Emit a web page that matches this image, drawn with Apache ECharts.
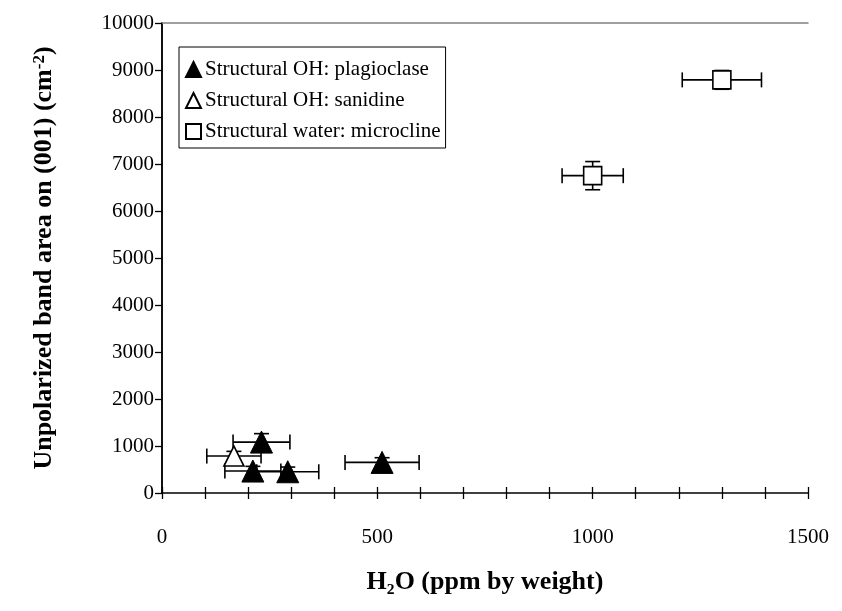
<!DOCTYPE html>
<html>
<head>
<meta charset="utf-8">
<script src="https://cdn.jsdelivr.net/npm/echarts@6/dist/echarts.min.js"></script>
<style>
  html, body { margin: 0; padding: 0; background: #fff; }
  #chart { width: 842px; height: 611px; }
</style>
</head>
<body>
<div id="chart"></div>
<script>
// Structural OH in plagioclase: H2O content (ppm) and band area, with uncertainties
const plagH2O    = [231, 211, 292, 511];
const plagArea   = [1083, 467, 452, 651];
const plagH2OErr = [66, 65, 72, 86];
const plagAreaErr = [180, 100, 100, 100];

// Structural OH in sanidine
const saniH2O    = [167];
const saniArea   = [786];
const saniH2OErr = [63];
const saniAreaErr = [100];

// Structural water in microcline
const micrH2O    = [1000, 1300];
const micrArea   = [6752, 8790];
const micrH2OErr = [71, 92];
const micrAreaErr = [300, 200];

const seriesNames = ['Structural OH: plagioclase', 'Structural OH: sanidine', 'Structural water: microcline'];
const xTickLabels = [0, 500, 1000, 1500];

const FONT = '"Liberation Serif", "Times New Roman", serif';

function points(xs, ys) { return xs.map((x, i) => [x, ys[i]]); }
function errRows(xs, ys, ex, ey) { return xs.map((x, i) => [x, ys[i], ex[i], ey[i]]); }

// Cross-shaped error bars with end caps
function renderErr(params, api) {
  const x = api.value(0), y = api.value(1), ex = api.value(2), ey = api.value(3);
  const c = api.coord([x, y]);
  const l = api.coord([x - ex, y]);
  const r = api.coord([x + ex, y]);
  const t = api.coord([x, y + ey]);
  const b = api.coord([x, y - ey]);
  const cap = 7.5;
  const st = { stroke: '#000', lineWidth: 1.6 };
  const line = (x1, y1, x2, y2) => ({ type: 'line', shape: { x1, y1, x2, y2 }, style: st });
  return {
    type: 'group',
    children: [
      line(l[0], c[1], r[0], c[1]),
      line(l[0], c[1] - cap, l[0], c[1] + cap),
      line(r[0], c[1] - cap, r[0], c[1] + cap),
      line(c[0], t[1], c[0], b[1]),
      line(c[0] - cap, t[1], c[0] + cap, t[1]),
      line(c[0] - cap, b[1], c[0] + cap, b[1])
    ]
  };
}

function errSeries(data) {
  return {
    type: 'custom',
    renderItem: renderErr,
    data: data,
    encode: { x: 0, y: 1 },
    z: 2,
    silent: true
  };
}

const chart = echarts.init(document.getElementById('chart'), null, { renderer: 'canvas' });

chart.setOption({
  animation: false,
  backgroundColor: '#fff',
  textStyle: { fontFamily: FONT, color: '#000' },
  grid: { left: 162, right: 34, top: 23, bottom: 118 },
  legend: {
    data: seriesNames,
    orient: 'vertical',
    left: 179,
    top: 47,
    padding: [12, 5, 6, 6],
    itemGap: 10,
    itemWidth: 15,
    itemHeight: 15,
    borderColor: '#000',
    borderWidth: 1,
    backgroundColor: '#fff',
    textStyle: { fontFamily: FONT, fontSize: 21, color: '#000', padding: [0, 0, 0, -1] }
  },
  xAxis: [
    {
      type: 'value',
      position: 'bottom',
      min: 0, max: 1500, interval: 100,
      name: 'H\u2082O (ppm by weight)',
      nameLocation: 'middle',
      nameGap: 76,
      nameTextStyle: { fontFamily: FONT, fontSize: 26, fontWeight: 'bold', color: '#000' },
      axisLine: { lineStyle: { color: '#000', width: 1.5 } },
      axisTick: { show: true, length: 6, lineStyle: { color: '#000', width: 1.3 } },
      axisLabel: {
        margin: 34,
        fontFamily: FONT, fontSize: 21, color: '#000',
        formatter: v => (xTickLabels.indexOf(v) >= 0 ? String(v) : '')
      },
      splitLine: { show: false }
    },
    {
      // inner half of the crossing ticks
      type: 'value',
      position: 'bottom',
      min: 0, max: 1500, interval: 100,
      axisLine: { show: false },
      axisTick: { show: true, inside: true, length: 6, lineStyle: { color: '#000', width: 1.3 } },
      axisLabel: { show: false },
      splitLine: { show: false }
    },
    {
      // top frame of the plot area
      type: 'value',
      position: 'top',
      min: 0, max: 1500,
      axisLine: { show: true, lineStyle: { color: '#808080', width: 1.5 } },
      axisTick: { show: false },
      axisLabel: { show: false },
      splitLine: { show: false }
    }
  ],
  yAxis: [
    {
      type: 'value',
      position: 'left',
      min: 0, max: 10000, interval: 1000,
      name: 'Unpolarized band area on (001) (cm{sup|-2})',
      nameLocation: 'middle',
      nameRotate: 90,
      nameGap: 105,
      nameTextStyle: {
        fontFamily: FONT, fontSize: 26, fontWeight: 'bold', color: '#000',
        rich: {
          sup: { fontFamily: FONT, fontSize: 17, fontWeight: 'bold', color: '#000', verticalAlign: 'top', lineHeight: 17, padding: [0, 0, 14, 0] }
        }
      },
      axisLine: { lineStyle: { color: '#000', width: 1.5 } },
      axisTick: { show: true, length: 7, lineStyle: { color: '#000', width: 1.3 } },
      axisLabel: { margin: 8, fontFamily: FONT, fontSize: 21, color: '#000', formatter: v => String(v) },
      splitLine: { show: false }
    },
    {
      // right frame of the plot area
      type: 'value',
      position: 'right',
      min: 0, max: 10000,
      axisLine: { show: true, lineStyle: { color: '#000', width: 1.5 } },
      axisTick: { show: false },
      axisLabel: { show: false },
      splitLine: { show: false }
    }
  ],
  series: [
    errSeries(errRows(plagH2O, plagArea, plagH2OErr, plagAreaErr)),
    errSeries(errRows(saniH2O, saniArea, saniH2OErr, saniAreaErr)),
    errSeries(errRows(micrH2O, micrArea, micrH2OErr, micrAreaErr)),
    {
      name: seriesNames[0],
      type: 'scatter',
      symbol: 'triangle',
      symbolSize: 22,
      data: points(plagH2O, plagArea),
      itemStyle: { color: '#000', borderColor: '#000', borderWidth: 1, opacity: 1 },
      z: 5
    },
    {
      name: seriesNames[1],
      type: 'scatter',
      symbol: 'triangle',
      symbolSize: 20,
      data: points(saniH2O, saniArea),
      itemStyle: { color: '#fff', borderColor: '#000', borderWidth: 1.6, opacity: 1 },
      z: 5
    },
    {
      name: seriesNames[2],
      type: 'scatter',
      symbol: 'rect',
      symbolSize: 18,
      data: points(micrH2O, micrArea),
      itemStyle: { color: '#fff', borderColor: '#000', borderWidth: 1.6, opacity: 1 },
      z: 5
    }
  ]
});
</script>
</body>
</html>
